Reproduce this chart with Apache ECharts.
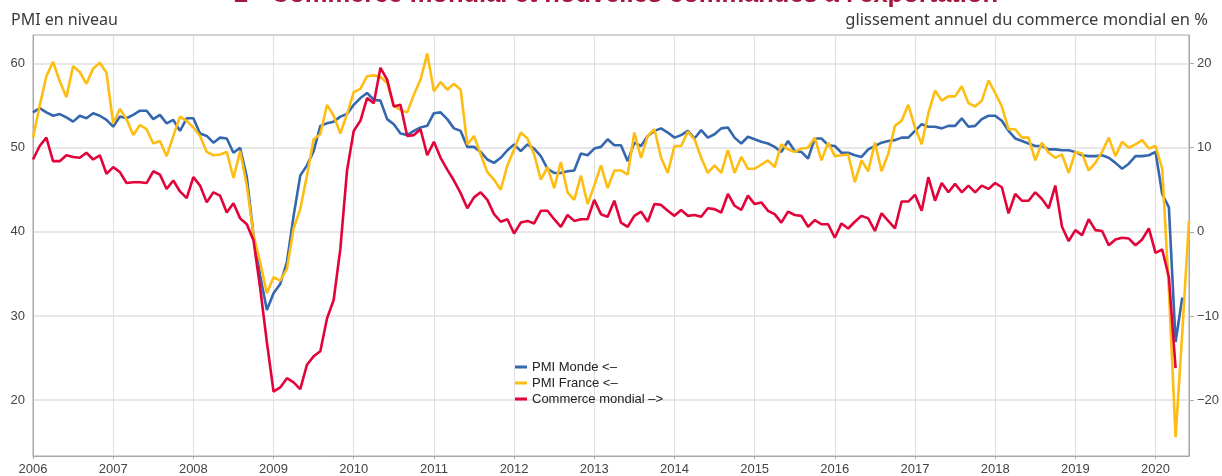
<!DOCTYPE html>
<html>
<head>
<meta charset="utf-8">
<script src="https://cdn.jsdelivr.net/npm/echarts@6/dist/echarts.min.js"></script>
<style>
html,body{margin:0;padding:0;background:#fff;}
#chart{width:1222px;height:476px;}
</style>
</head>
<body>
<div id="chart"></div>
<script>
// données mensuelles, janvier 2006 -> juin 2020
var startYear = 2006;
var yearTicks = [2006,2007,2008,2009,2010,2011,2012,2013,2014,2015,2016,2017,2018,2019,2020];
var leftTicks = [20,30,40,50,60];
var rightTicks = [-20,-10,0,10,20];
var names = ['PMI Monde <–','PMI France <–','Commerce mondial –>'];

// PMI Monde (niveau)
var pmiMonde = [
	54.2,54.7,54.2,53.8,54.0,53.6,53.1,53.8,53.5,54.1,53.8,53.3,
	52.5,53.7,53.5,53.9,54.4,54.4,53.4,53.9,52.9,53.3,52.0,53.5,
	53.5,51.7,51.4,50.6,51.2,51.1,49.4,50.0,46.5,39.6,34.8,30.7,
	32.7,33.8,36.4,41.9,46.7,47.9,49.6,52.6,52.9,53.1,53.7,54.0,
	55.1,55.9,56.5,55.7,55.6,53.4,52.8,51.7,51.5,52.0,52.4,52.6,
	54.1,54.2,53.4,52.3,52.0,50.1,50.1,49.5,48.6,48.2,48.8,49.7,
	50.4,49.6,50.4,49.9,49.0,47.5,47.0,47.0,47.2,47.3,49.3,49.1,
	49.9,50.1,51.0,50.3,50.3,48.4,50.6,50.2,51.4,52.0,52.3,51.8,
	51.2,51.5,52.0,51.1,52.1,51.2,51.6,52.3,52.4,51.2,50.5,51.3,
	51.0,50.7,50.5,50.1,49.5,50.8,49.6,49.5,48.7,51.1,51.1,50.3,
	50.2,49.4,49.4,49.1,48.9,49.8,50.2,50.6,50.8,50.9,51.2,51.2,
	52.0,52.8,52.5,52.5,52.3,52.6,52.6,53.5,52.5,52.6,53.4,53.8,
	53.8,53.2,52.0,51.1,50.8,50.5,50.2,50.2,49.8,49.8,49.7,49.7,
	49.5,49.1,49.0,49.0,49.1,48.8,48.2,47.5,48.1,49.0,49.0,49.1,
	49.5,44.5,42.9,26.9,32.2
];

// PMI France (niveau)
var pmiFrance = [
	51.2,55.0,58.5,60.2,57.9,56.0,59.7,59.0,57.6,59.4,60.1,58.9,
	52.9,54.6,53.4,51.5,52.7,52.2,50.5,50.8,49.0,51.4,53.7,53.2,
	52.4,51.4,49.5,49.1,49.2,49.5,46.4,49.6,45.5,39.6,36.4,32.7,
	34.6,34.2,35.6,40.4,42.7,46.7,51.0,51.6,55.1,53.8,51.7,54.0,
	56.6,57.0,58.5,58.6,58.4,57.7,55.0,54.5,54.2,56.3,58.1,61.2,
	56.7,57.8,56.9,57.6,56.9,50.4,51.4,49.2,47.1,46.2,45.0,47.9,
	49.8,51.8,51.1,49.2,46.2,47.7,45.2,48.3,44.7,43.8,46.7,43.3,
	45.5,47.9,45.2,47.3,47.3,46.8,51.8,48.8,51.4,52.2,48.8,47.0,
	50.2,50.2,51.9,51.0,48.8,47.0,47.9,47.0,49.7,47.0,48.9,47.5,
	47.5,48.0,48.5,47.7,50.4,49.8,49.5,49.9,50.0,51.2,48.5,50.6,
	49.0,49.1,49.2,45.9,48.5,47.2,50.6,47.2,49.3,52.6,53.2,55.1,
	52.4,50.4,54.1,56.8,55.6,56.1,56.1,57.3,55.3,54.9,55.6,58.0,
	56.5,54.9,52.2,52.2,51.2,51.2,48.5,50.6,49.4,48.8,49.2,47.0,
	49.5,49.3,47.3,48.2,49.5,51.2,49.0,50.7,50.0,50.4,50.9,49.9,
	50.2,47.5,33.0,15.6,28.0,41.3
];

// commerce mondial, glissement annuel en %
var commerceMondial = [
	8.6,10.2,11.2,8.4,8.4,9.1,8.9,8.8,9.4,8.6,9.1,6.9,
	7.7,7.1,5.8,5.9,5.9,5.8,7.2,6.8,5.1,6.1,4.8,4.0,
	6.5,5.5,3.5,4.7,4.3,2.3,3.4,1.6,0.9,-1.0,-6.7,-13.1,
	-19.0,-18.5,-17.4,-17.9,-18.7,-15.8,-14.8,-14.2,-10.3,-8.1,-2.0,7.3,
	12.0,13.2,15.9,15.3,19.5,18.1,14.9,15.1,11.4,11.5,12.2,9.1,
	10.7,8.8,7.4,6.1,4.6,2.8,4.1,4.7,3.8,2.1,1.2,1.5,
	-0.2,1.1,1.3,1.0,2.5,2.5,1.5,0.6,2.0,1.3,1.5,1.5,
	3.8,2.1,1.8,3.7,1.1,0.6,1.9,2.4,1.2,3.3,3.2,2.5,
	1.9,2.6,1.9,2.0,1.8,2.8,2.7,2.3,4.5,3.1,2.6,4.3,
	3.3,3.5,2.5,2.1,1.1,2.4,2.0,1.9,0.6,1.4,0.9,0.9,
	-0.7,1.0,0.4,1.2,1.9,1.6,0.1,2.2,1.3,0.4,3.6,3.6,
	4.4,2.5,6.5,3.7,5.8,4.7,5.7,4.7,5.5,4.7,5.5,5.1,
	5.8,5.3,2.2,4.5,3.7,3.7,4.7,3.9,2.8,5.5,0.6,-1.1,
	0.2,-0.4,1.5,0.2,0.1,-1.6,-0.9,-0.7,-0.8,-1.6,-0.9,0.4,
	-2.5,-2.1,-5.4,-16.2
];

// mois -> année décimale
function toPairs(arr){
	var out = [];
	for (var i = 0; i < arr.length; i++) {
		out.push([startYear + i/12, arr[i]]);
	}
	return out;
}

var font = '"Liberation Sans", Arial, sans-serif';
var gridColor = '#e0e0e0';
var axisColor = '#a8a8a8';
var textColor = '#444';

var myChart = echarts.init(document.getElementById('chart'));
var option = {
	animation: false,
	backgroundColor: '#fff',
	graphic: [
		{
			type: 'text', x: 616, y: -5,
			style: {
				text: "2 - Commerce mondial et nouvelles commandes à l'exportation",
				font: 'bold 25.5px ' + font, fill: '#a3173c',
				align: 'center', verticalAlign: 'middle'
			}
		},
		{
			type: 'text', x: 11, y: 20,
			style: {
				text: 'PMI en niveau',
				font: '16px "Noto Sans", sans-serif', fill: '#3a3a3a',
				align: 'left', verticalAlign: 'middle'
			}
		},
		{
			type: 'text', x: 1208, y: 20,
			style: {
				text: 'glissement annuel du commerce mondial en %',
				font: '16.5px "Noto Sans", sans-serif', fill: '#3a3a3a',
				align: 'right', verticalAlign: 'middle'
			}
		}
	],
	grid: {
		left: 33, right: 32, top: 35, bottom: 18,
		show: true, borderColor: axisColor, borderWidth: 1
	},
	legend: {
		orient: 'vertical',
		left: 510, top: 354,
		itemWidth: 12, itemHeight: 3, itemGap: 0,
		icon: 'rect',
		data: names,
		textStyle: { fontFamily: font, fontSize: 13, color: '#222', lineHeight: 16 }
	},
	xAxis: {
		type: 'value',
		min: startYear,
		max: startYear + 173/12,
		axisLine: { show: true, onZero: false, lineStyle: { color: axisColor } },
		axisTick: { show: true, length: 3, lineStyle: { color: axisColor }, customValues: yearTicks },
		axisLabel: { customValues: yearTicks, fontFamily: font, fontSize: 13, color: textColor, margin: 7,
			formatter: function(v){ return String(Math.round(v)); } },
		splitLine: { show: true, lineStyle: { color: gridColor, width: 1 } }
	},
	yAxis: [
		{
			type: 'value',
			min: 13.35, max: 63.4,
			axisLine: { show: true, onZero: false, lineStyle: { color: axisColor } },
			axisTick: { show: false, customValues: leftTicks },
			axisLabel: { customValues: leftTicks, fontFamily: font, fontSize: 13, color: textColor, margin: 8 },
			splitLine: { show: true, lineStyle: { color: gridColor, width: 1.5 } }
		},
		{
			type: 'value',
			position: 'right',
			min: -26.65, max: 23.4,
			axisLine: { show: true, onZero: false, lineStyle: { color: axisColor } },
			axisTick: { show: true, length: 5, lineStyle: { color: axisColor }, customValues: rightTicks },
			axisLabel: { customValues: rightTicks, fontFamily: font, fontSize: 13, color: textColor, margin: 8,
				formatter: function(v){ return String(v).replace('-', '\u2212'); } },
			splitLine: { show: false }
		}
	],
	series: [
		{
			name: names[0], type: 'line', yAxisIndex: 0,
			symbol: 'none', color: '#3567ae',
			lineStyle: { width: 2.6, color: '#3567ae' },
			data: toPairs(pmiMonde)
		},
		{
			name: names[1], type: 'line', yAxisIndex: 0,
			symbol: 'none', color: '#fdbd12',
			lineStyle: { width: 2.6, color: '#fdbd12' },
			data: toPairs(pmiFrance)
		},
		{
			name: names[2], type: 'line', yAxisIndex: 1,
			symbol: 'none', color: '#e2033b',
			lineStyle: { width: 2.6, color: '#e2033b' },
			data: toPairs(commerceMondial)
		}
	]
};
myChart.setOption(option);
</script>
</body>
</html>
